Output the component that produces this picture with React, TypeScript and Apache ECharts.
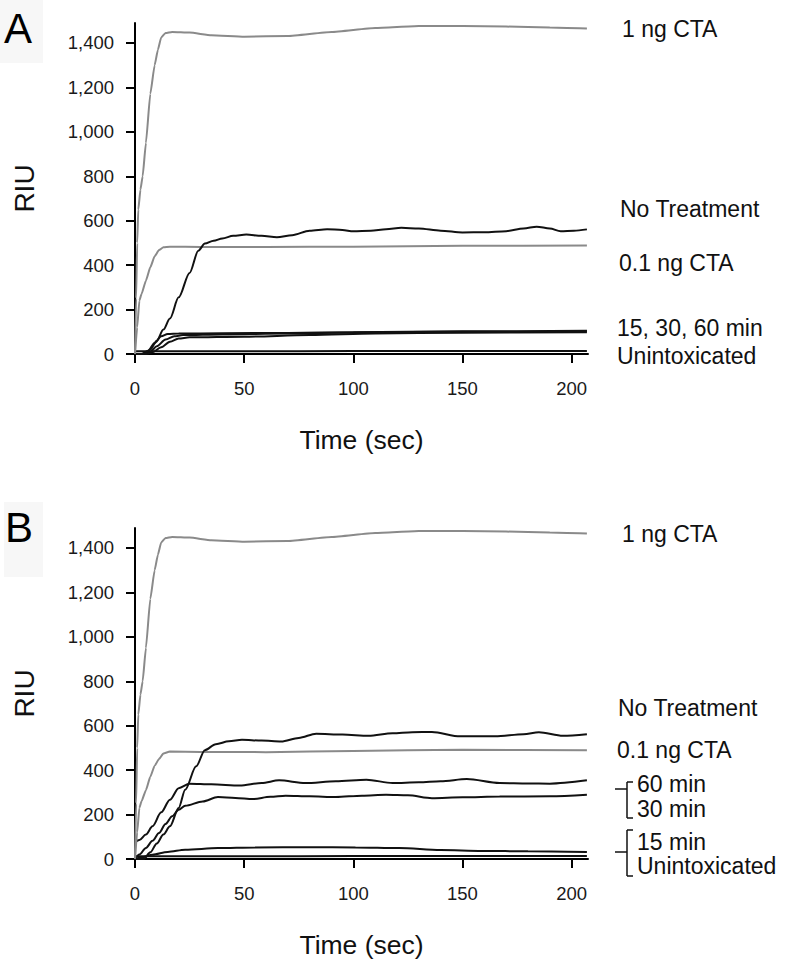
import React, { useEffect, useRef } from "react";
import * as echarts from "echarts";

// ---- Data (time in sec, response in RIU) ----
const yTicks = [0, 200, 400, 600, 800, 1000, 1200, 1400];
const xTicks = [0, 50, 100, 150, 200];

// Panel A
const aCta1 = [[0,0],[0.5,250],[1,500],[1.5,650],[2.5,740],[3.5,800],[5,950],[7,1170],[9,1300],[10.5,1370],[12,1425],[14,1445],[17,1450],[25,1447],[35,1435],[50,1428],[70,1432],[90,1450],[110,1468],[130,1477],[150,1477],[170,1474],[190,1470],[207,1465]];
const aCta01 = [[0,0],[1,120],[2,240],[3,270],[5,330],[7,390],[9,440],[11,468],[13,480],[16,483],[30,482],[60,482],[100,483],[150,487],[207,488]];
const aNoTreat = [[0,0],[4,0],[7,20],[10,60],[13,110],[16,160],[20,255],[25,365],[29,465],[32,497],[36,510],[40,520],[45,532],[51,538],[58,532],[65,525],[72,535],[80,555],[88,562],[95,558],[100,552],[108,555],[115,562],[122,568],[130,565],[140,555],[150,547],[160,548],[170,553],[178,565],[184,573],[190,565],[195,553],[201,555],[207,561]];
const a60 = [[0,0],[3,0],[6,15],[9,50],[12,80],[15,90],[20,92],[40,93],[70,95],[100,98],[150,102],[207,105]];
const a30 = [[0,0],[4,0],[7,10],[10,35],[14,65],[18,80],[22,85],[40,88],[70,92],[100,97],[150,100],[207,102]];
const a15 = [[0,0],[5,0],[8,8],[12,30],[16,55],[20,70],[25,75],[50,78],[80,85],[110,92],[150,96],[207,98]];
const aUnintox = [[0,12],[50,12],[100,13],[150,13],[207,14]];

// Panel B
const bCta1 = [[0,0],[0.5,250],[1,500],[1.5,650],[2.5,740],[3.5,800],[5,950],[7,1170],[9,1300],[10.5,1370],[12,1425],[14,1445],[17,1450],[25,1447],[35,1435],[50,1428],[70,1432],[90,1450],[110,1468],[130,1477],[150,1477],[170,1474],[190,1470],[207,1465]];
const bCta01 = [[0,0],[1,120],[2,230],[3,260],[5,310],[7,370],[9,420],[11,450],[13,475],[16,484],[30,482],[60,481],[100,486],[150,492],[207,489]];
const bNoTreat = [[0,0],[4,0],[7,30],[10,70],[13,110],[16,147],[20,230],[23,312],[28,417],[32,490],[37,517],[43,530],[49,537],[58,533],[67,529],[75,545],[83,564],[95,560],[107,555],[118,566],[127,571],[136,572],[149,552],[165,552],[178,562],[185,571],[196,555],[207,562]];
const b60 = [[0,75],[2,85],[5,110],[8,147],[12,210],[16,267],[20,319],[25,339],[35,336],[48,331],[58,342],[66,354],[78,342],[92,350],[106,357],[118,342],[130,345],[140,350],[152,360],[167,342],[180,340],[190,339],[207,354]];
const b30 = [[0,0],[2,20],[5,50],[8,82],[11,117],[14,158],[17,192],[20,222],[23,240],[31,259],[38,279],[46,275],[54,270],[62,280],[69,285],[80,282],[92,279],[104,285],[115,289],[125,287],[136,274],[150,278],[167,281],[190,282],[207,289]];
const b15 = [[0,0],[3,8],[8,19],[15,32],[23,42],[38,49],[55,52],[80,53],[101,52],[121,49],[140,40],[159,36],[180,35],[207,32]];
const bUnintox = [[0,12],[50,12],[100,13],[150,13],[207,14]];

const BLACK = "#111111";
const GRAY = "#8a8a8a";
const FONT = "Liberation Sans, Arial, sans-serif";

function mkAxes(gi: number) {
  const x = {
    type: "value",
    gridIndex: gi,
    min: 0,
    max: 207.5,
    axisLine: { lineStyle: { color: "#000", width: 2 } },
    axisTick: { length: 9, lineStyle: { color: "#000", width: 2 }, customValues: xTicks },
    axisLabel: { color: "#1a1a1a", fontSize: 18.5, fontFamily: FONT, margin: 25, customValues: xTicks },
    splitLine: { show: false },
    name: "Time (sec)",
    nameLocation: "middle",
    nameGap: 72,
    nameTextStyle: { color: "#111", fontSize: 26.5, fontFamily: FONT, verticalAlign: "top" },
  };
  const y = {
    type: "value",
    gridIndex: gi,
    min: 0,
    max: 1490,
    axisLine: { show: true, lineStyle: { color: "#000", width: 2 } },
    axisTick: { show: true, length: 9, lineStyle: { color: "#000", width: 2 }, customValues: yTicks },
    axisLabel: {
      color: "#1a1a1a",
      fontSize: 18.5,
      fontFamily: FONT,
      margin: 21,
      customValues: yTicks,
      formatter: (v: number) => v.toLocaleString("en-US"),
    },
    splitLine: { show: false },
    name: "RIU",
    nameLocation: "middle",
    nameGap: 97,
    nameRotate: 90,
    nameTextStyle: { color: "#111", fontSize: 28, fontFamily: FONT },
  };
  return { x, y };
}

function line(data: number[][], color: string, gi: number, smooth = 0.3) {
  return {
    type: "line",
    xAxisIndex: gi,
    yAxisIndex: gi,
    data,
    showSymbol: false,
    smooth,
    smoothMonotone: "x",
    lineStyle: { color, width: 2 },
    silent: true,
  };
}

function txt(text: string, x: number, y: number, size = 23) {
  return {
    type: "text",
    x,
    y,
    style: { text, fill: "#111", fontSize: size, fontFamily: FONT, verticalAlign: "middle", align: "left" },
  };
}

function seg(x1: number, y1: number, x2: number, y2: number) {
  return { type: "line", shape: { x1, y1, x2, y2 }, style: { stroke: "#111", lineWidth: 1.5 } };
}

export default function App() {
  const ref = useRef<HTMLDivElement>(null);
  useEffect(() => {
    if (!ref.current) return;
    const chart = echarts.init(ref.current, null, { renderer: "svg" });
    const A = mkAxes(0);
    const B = mkAxes(1);
    chart.setOption({
      animation: false,
      backgroundColor: "#fff",
      grid: [
        { left: 135, top: 23, width: 453, height: 331 },
        { left: 135, top: 528, width: 453, height: 331 },
      ],
      xAxis: [A.x, B.x],
      yAxis: [A.y, B.y],
      series: [
        line(aUnintox, BLACK, 0),
        line(a15, BLACK, 0),
        line(a30, BLACK, 0),
        line(a60, BLACK, 0),
        line(aCta01, GRAY, 0, 0.15),
        line(aNoTreat, BLACK, 0),
        line(aCta1, GRAY, 0, 0.15),
        line(bUnintox, BLACK, 1),
        line(b15, BLACK, 1),
        line(b30, BLACK, 1),
        line(b60, BLACK, 1),
        line(bCta01, GRAY, 1, 0.15),
        line(bNoTreat, BLACK, 1),
        line(bCta1, GRAY, 1, 0.15),
      ],
      graphic: [
        { type: "rect", shape: { x: 0, y: 0, width: 43, height: 63 }, style: { fill: "#f7f7f7" }, z: -1 },
        { type: "rect", shape: { x: 4, y: 502, width: 39, height: 75 }, style: { fill: "#f7f7f7" }, z: -1 },
        { type: "text", x: 4, y: 28, style: { text: "A", fill: "#000", fontSize: 42, fontFamily: FONT, verticalAlign: "middle" } },
        { type: "text", x: 5, y: 527, style: { text: "B", fill: "#000", fontSize: 42, fontFamily: FONT, verticalAlign: "middle" } },
        txt("1 ng CTA", 622, 29),
        txt("No Treatment", 620, 209),
        txt("0.1 ng CTA", 619, 263),
        txt("15, 30, 60 min", 617, 328),
        txt("Unintoxicated", 617, 356),
        txt("1 ng CTA", 622, 534),
        txt("No Treatment", 618, 708),
        txt("0.1 ng CTA", 617, 750),
        txt("60 min", 637, 784),
        txt("30 min", 637, 809),
        txt("15 min", 637, 842),
        txt("Unintoxicated", 637, 866),
        seg(627, 782, 627, 818),
        seg(627, 782, 633, 782),
        seg(627, 818, 633, 818),
        seg(615, 789, 627, 789),
        seg(627, 830, 627, 876),
        seg(627, 830, 633, 830),
        seg(627, 876, 633, 876),
        seg(615, 852, 627, 852),
      ],
    });
    return () => chart.dispose();
  }, []);
  return (
    <div
      ref={ref}
      style={{ position: "fixed", left: 0, top: 0, width: 787, height: 971, background: "#fff" }}
    />
  );
}
